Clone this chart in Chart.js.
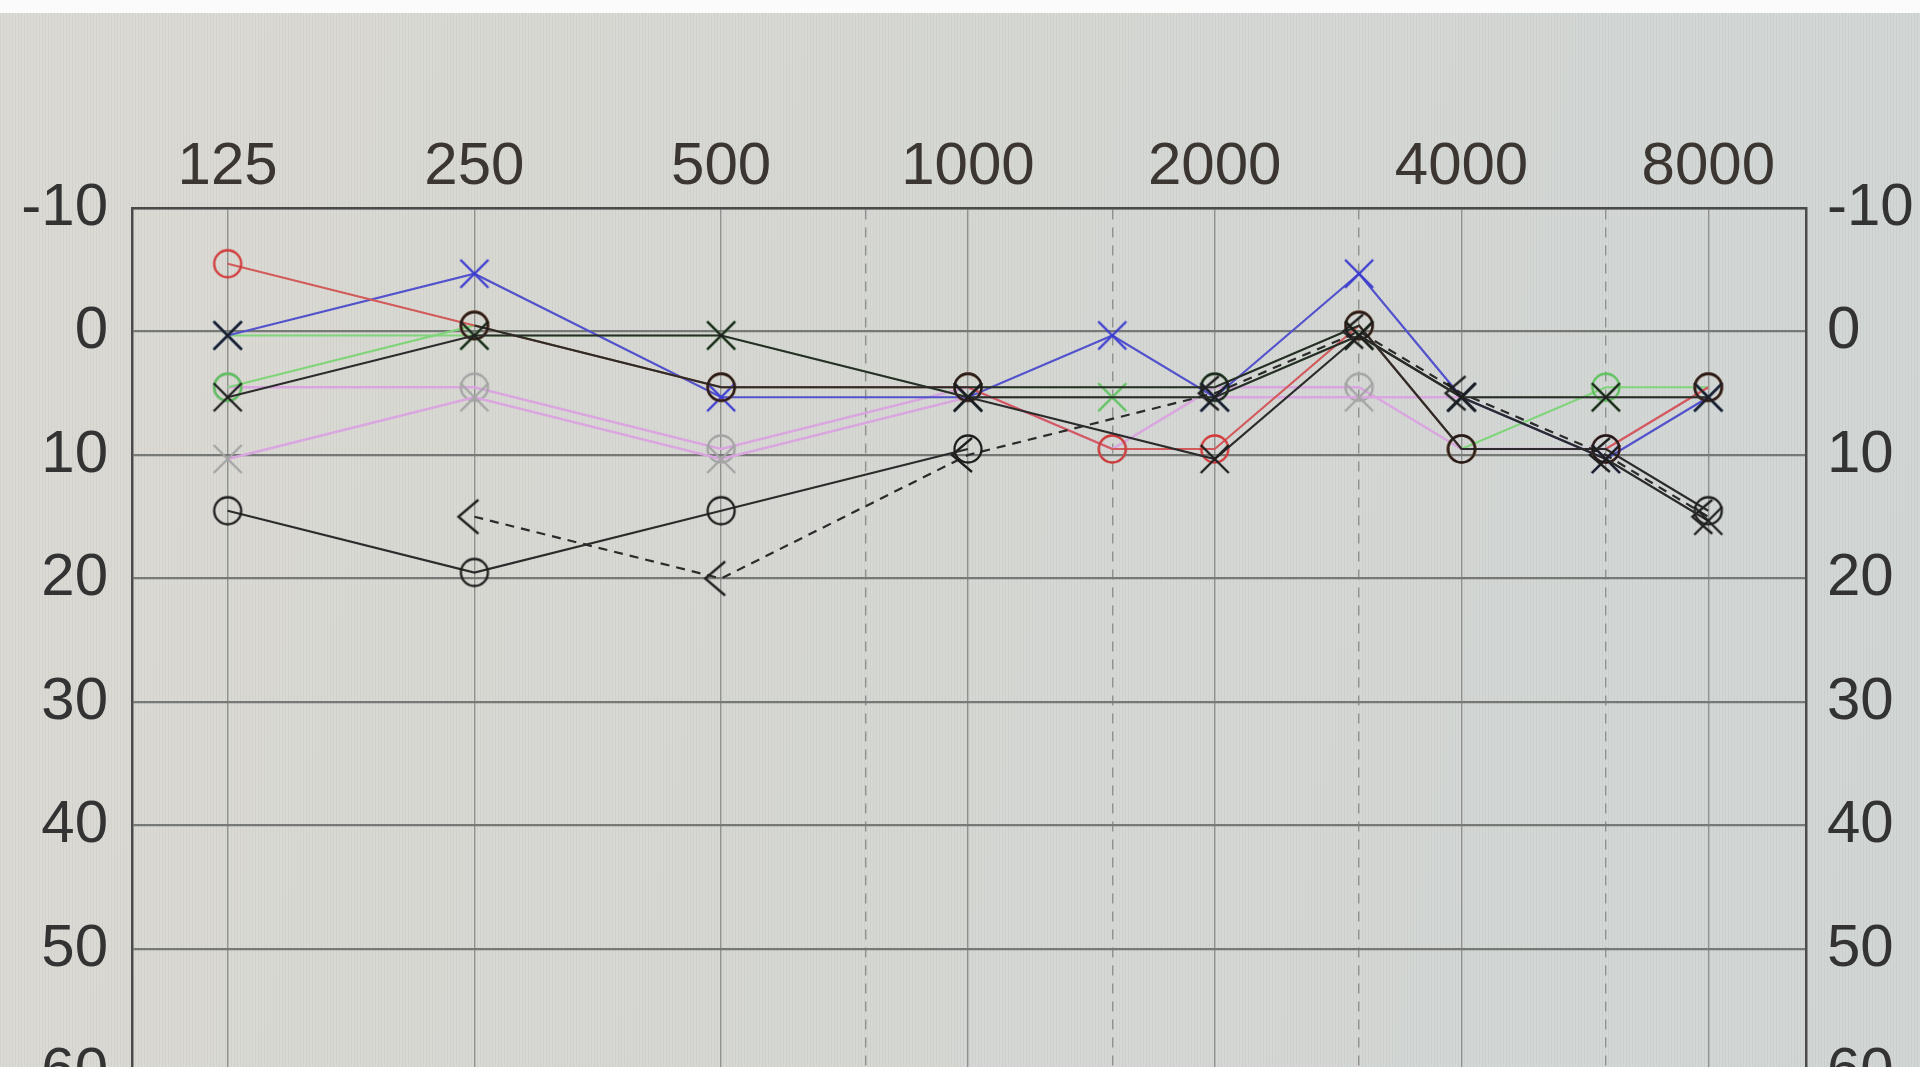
<!DOCTYPE html>
<html>
<head>
<meta charset="utf-8">
<script src="https://cdn.jsdelivr.net/npm/chart.js@4/dist/chart.umd.min.js"></script>
<style>
  html, body { margin: 0; padding: 0; overflow: hidden; }
  body {
    width: 1920px; height: 1067px;
    background:
      repeating-linear-gradient(90deg, rgba(60,60,60,0.05) 0 1px, rgba(0,0,0,0) 1px 3px),
      linear-gradient(100deg, #dcdad4 0%, #d6d8d4 50%, #d2d7d6 100%);
  }
  #band { position: absolute; left: 0; top: 0; width: 1920px; height: 13px; background: #fbfbfb; z-index: 2; }
  #wrap { position: absolute; left: 0; top: 0; width: 1920px; height: 1256px; }
</style>
</head>
<body>
<div id="band"></div>
<div id="wrap"><canvas id="audiogramme"></canvas></div>
<script>
// fréquences testées (Hz) et graduations
const frequences = [125, 250, 500, 750, 1000, 1500, 2000, 3000, 4000, 6000, 8000];
const octaves = [125, 250, 500, 1000, 2000, 4000, 8000];
const niveauxDb = [-10, 0, 10, 20, 30, 40, 50, 60, 70];

// seuils en dB HL, un par fréquence (null = pas mesuré)
const droiteRouge  = [-5, 0, 5, null, 5, 10, 10, 0, 10, 10, 5];
const gaucheBleue  = [0, -5, 5, null, 5, 0, 5, -5, 5, 10, 5];
const noirX1       = [5, 0, 0, null, 5, null, 5, 0, 5, 5, 5];
const noirX2       = [0, null, null, null, 5, null, 10, 0, 5, 10, 15];
const noirO1       = [null, 0, 5, null, 5, null, 5, 0, 10, 10, 15];
const noirO2       = [15, 20, 15, null, 10, null, null, null, null, null, 5];
const osseuse      = [null, 15, 20, null, 10, null, 5, 0, 5, 10, 15];
const vertO        = [5, 0, 5, null, 5, null, 5, 0, 10, 5, 5];
const vertX        = [0, 0, 0, null, 5, 5, 5, 0, 5, 5, 5];
const griseO       = [5, 5, 10, null, 5, 10, 5, 5, 10, 10, 5];
const griseX       = [10, 5, 10, null, 5, null, 5, 5, 5, 5, 5];

const pos = f => Math.log2(f / 125);

// symboles d'audiogramme dessinés sur un petit canvas
function symbole(forme, couleur) {
  const c = document.createElement('canvas');
  c.width = 56; c.height = 56;
  const g = c.getContext('2d');
  g.strokeStyle = couleur;
  g.lineWidth = 2.3;
  g.translate(28, 28);
  g.beginPath();
  if (forme === 'O') {
    g.arc(0, 0, 13.5, 0, Math.PI * 2);
  } else if (forme === 'X') {
    g.moveTo(-14, -14); g.lineTo(14, 14);
    g.moveTo(14, -14); g.lineTo(-14, 14);
  } else {
    g.moveTo(4, -17); g.lineTo(-16, 0); g.lineTo(4, 17);
  }
  g.stroke();
  return c;
}

function serie(valeurs, forme, couleurPoint, couleurLigne, opts = {}) {
  const points = [];
  frequences.forEach((f, i) => {
    if (valeurs[i] !== null) points.push({ x: pos(f), y: valeurs[i] });
  });
  const coupure = opts.coupureApres; // segment non relié
  return {
    data: points,
    borderColor: couleurLigne,
    borderWidth: opts.epaisseur || 2.2,
    borderDash: opts.tirets || [],
    pointStyle: symbole(forme, couleurPoint),
    pointRadius: 14,
    decalY: forme === 'O' ? -6 : (forme === 'X' ? 4 : 0),
    segment: coupure === undefined ? {} : {
      borderColor: ctx => ctx.p0.parsed.x === pos(coupure) ? 'rgba(0,0,0,0)' : undefined
    }
  };
}

// premier élément = dessiné au-dessus
const datasets = [
  serie(noirX1, 'X', '#1e1e1e', '#2b2b2b'),
  serie(noirX2, 'X', '#1e1e1e', '#2b2b2b', { coupureApres: 125 }),
  serie(noirO1, 'O', '#1e1e1e', '#2b2b2b'),
  serie(noirO2, 'O', '#1e1e1e', '#2b2b2b', { coupureApres: 1000 }),
  serie(osseuse, '<', '#1e1e1e', '#2b2b2b', { tirets: [9, 7] }),
  serie(droiteRouge, 'O', '#d23a3a', '#d25a5a'),
  serie(gaucheBleue, 'X', '#3a3ad0', '#5252cc'),
  serie(vertX, 'X', '#5cc25c', '#80d47a'),
  serie(vertO, 'O', '#5cc25c', '#80d47a'),
  serie(griseX, 'X', '#a4a4a4', '#d9a6df', { epaisseur: 2.6 }),
  serie(griseO, 'O', '#a4a4a4', '#d9a6df', { epaisseur: 2.6 })
];

// décale légèrement O vers le haut et X vers le bas, comme sur l'écran
const decalage = {
  id: 'decalage',
  beforeDatasetDraw(chart, args) {
    chart.ctx.save();
    chart.ctx.translate(0, chart.data.datasets[args.index].decalY || 0);
  },
  afterDatasetDraw(chart) {
    chart.ctx.restore();
  }
};

const positionsX = frequences.map(pos);
const police = { family: "'Liberation Sans', Arial, sans-serif", size: 60 };

new Chart(document.getElementById('audiogramme'), {
  type: 'line',
  data: { datasets },
  plugins: [decalage],
  options: {
    responsive: true,
    maintainAspectRatio: false,
    animation: false,
    layout: { padding: 0 },
    plugins: { legend: { display: false }, tooltip: { enabled: false } },
    elements: { line: { tension: 0 } },
    scales: {
      x: {
        type: 'linear',
        position: 'top',
        min: -0.3875,
        max: 6.396,
        afterBuildTicks: s => { s.ticks = positionsX.map(v => ({ value: v })); },
        afterFit: s => { s.height = 208; },
        ticks: {
          autoSkip: false,
          maxRotation: 0,
          padding: 5,
          color: '#3b3632',
          font: police,
          callback: v => {
            const f = Math.round(125 * Math.pow(2, v));
            return octaves.includes(f) ? String(f) : '';
          }
        },
        grid: { color: '#8f928e', lineWidth: 1.4, drawTicks: false },
        border: {
          color: '#4a4a4a', width: 2.5,
          dash: ctx => (ctx.tick && !Number.isInteger(Math.round(ctx.tick.value * 1000) / 1000)) ? [10, 8] : []
        }
      },
      y: {
        position: 'left',
        reverse: true,
        min: -10,
        max: 70,
        afterBuildTicks: s => { s.ticks = niveauxDb.map(v => ({ value: v })); },
        afterFit: s => { s.width = 132; },
        ticks: { padding: 24, color: '#333', font: police },
        grid: { color: '#767975', lineWidth: 2.2, drawTicks: false },
        border: { color: '#4a4a4a', width: 2.5 }
      },
      y2: {
        position: 'right',
        reverse: true,
        min: -10,
        max: 70,
        afterBuildTicks: s => { s.ticks = niveauxDb.map(v => ({ value: v })); },
        afterFit: s => { s.width = 114; },
        ticks: { padding: 21, color: '#333', font: police },
        grid: { display: false, drawTicks: false },
        border: { color: '#4a4a4a', width: 2.5 }
      }
    }
  }
});
</script>
</body>
</html>
